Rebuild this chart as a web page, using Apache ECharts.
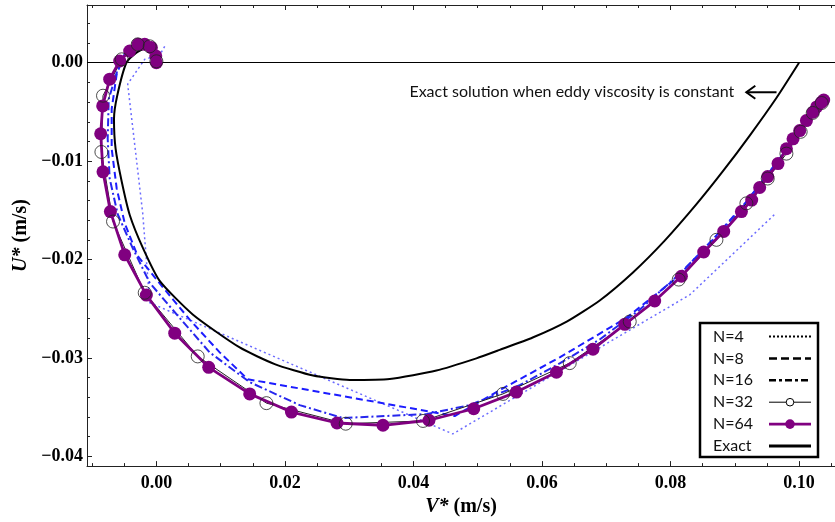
<!DOCTYPE html>
<html><head><meta charset="utf-8">
<script src="https://cdn.jsdelivr.net/npm/echarts@6/dist/echarts.min.js"></script>
<style>html,body{margin:0;padding:0;background:#fff}#c{width:835px;height:522px}</style>
</head><body><div id="c"></div><script>
// ---- data (V*, U*) in m/s ----
const exact = [[0.00025,0.00063],[-0.00078,0.00136],[-0.00182,0.00143],[-0.00311,0.00103],[-0.00467,0.0],
  [-0.00610,-0.00335],[-0.00660,-0.00571],[-0.00635,-0.00874],[-0.00540,-0.01207],[-0.00415,-0.01547],
  [-0.00209,-0.01884],[0.00051,-0.02217],[0.00565,-0.02558],[0.01296,-0.02894],[0.01841,-0.03063],
  [0.02437,-0.03180],[0.03008,-0.03224],[0.03631,-0.03214],[0.04357,-0.03129],[0.04980,-0.03005],
  [0.05342,-0.02919],[0.05856,-0.02793],[0.06385,-0.02631],[0.06899,-0.02416],[0.07412,-0.02134],
  [0.07910,-0.01808],[0.08408,-0.01435],[0.08813,-0.01105],[0.09233,-0.00740],[0.09653,-0.00353],
  [0.1000,0.0]];
const n64 = [[0.0,0.0],[-0.0001,0.00069],[-0.00078,0.00154],[-0.00182,0.00187],[-0.00286,0.00187],
  [-0.00416,0.00119],[-0.00571,0.00018],[-0.00727,-0.00167],[-0.00836,-0.00439],[-0.00867,-0.00722],
  [-0.00831,-0.01109],[-0.00716,-0.01513],[-0.00493,-0.01952],[-0.00156,-0.02362],[0.00285,-0.02749],
  [0.00814,-0.03096],[0.01452,-0.03366],[0.02101,-0.03551],[0.02810,-0.03662],[0.03526,-0.03685],
  [0.04242,-0.03634],[0.04938,-0.03517],[0.05602,-0.03348],[0.06225,-0.03146],[0.06794,-0.02911],
  [0.07288,-0.02659],[0.07754,-0.02422],[0.08170,-0.02170],[0.08517,-0.01924],[0.08828,-0.01715],
  [0.09104,-0.01513],[0.09264,-0.01396],[0.09388,-0.01268],[0.09513,-0.01157],[0.09673,-0.01025],
  [0.09804,-0.00874],[0.09907,-0.00773],[0.10011,-0.00689],[0.10115,-0.00588],[0.10218,-0.00503],
  [0.10275,-0.00449],[0.10349,-0.00402],[0.10384,-0.00379]];
const n32 = [[0.0,0.00015],[-0.00104,0.00167],[-0.00291,0.00187],[-0.0054,0.00035],[-0.00831,-0.00335],
  [-0.00856,-0.00907],[-0.00675,-0.01614],[-0.00182,-0.02338],[0.00643,-0.02985],[0.01712,-0.03460],
  [0.02946,-0.03669],[0.04149,-0.03641],[0.05394,-0.03366],[0.06432,-0.03053],[0.07366,-0.02631],
  [0.08128,-0.02204],[0.08715,-0.01800],[0.09181,-0.01429],[0.09513,-0.01177],[0.09804,-0.00924],
  [0.10026,-0.00702],[0.10213,-0.00510],[0.10353,-0.00409]];
const n16 = [[0.0,0.00035],[-0.00073,0.00167],[-0.00229,0.00207],[-0.00415,0.00136],[-0.00602,-0.00066],
  [-0.00742,-0.00369],[-0.00758,-0.00773],[-0.00727,-0.01177],[-0.00602,-0.01540],[-0.00369,-0.01884],
  [-0.00104,-0.02237],[0.00331,-0.02571],[0.00829,-0.02944],[0.01452,-0.03247],[0.02230,-0.03480],
  [0.02899,-0.03611],[0.04207,-0.03571],[0.04876,-0.03480],[0.05654,-0.03278],[0.06276,-0.03056],
  [0.06898,-0.02813],[0.07521,-0.02510],[0.08143,-0.02146],[0.08688,-0.01783],[0.09155,-0.01439],
  [0.09699,-0.00975],[0.10352,-0.00399]];
const n8 = [[0.0002,0.00056],[-0.00104,0.00187],[-0.00291,0.00207],[-0.00478,0.00116],[-0.00618,-0.00116],
  [-0.00696,-0.0047],[-0.00696,-0.00874],[-0.00618,-0.01278],[-0.00493,-0.01631],[-0.00291,-0.01965],
  [0.00082,-0.02268],[0.00518,-0.02611],[0.00985,-0.02944],[0.01421,-0.03217],[0.04642,-0.03591],
  [0.05342,-0.03328],[0.06276,-0.02995],[0.07318,-0.02591],[0.08096,-0.02187],[0.08719,-0.01753],
  [0.09185,-0.01409],[0.09699,-0.00975],[0.10352,-0.00399]];
const n4 = [[0.00129,0.00167],[0.00051,0.00076],[-0.00182,0.00035],[-0.00447,-0.00217],[-0.00213,-0.01530],
  [-0.00104,-0.02439],[0.04611,-0.03773],[0.08300,-0.02359],[0.09623,-0.01540]];

// ---- axes / ticks ----
const xMajorTicks = [0, 0.02, 0.04, 0.06, 0.08, 0.10];
const xMinorTicks = [-0.01,-0.005,0.005,0.01,0.015,0.025,0.03,0.035,0.045,0.05,0.055,0.065,0.07,0.075,0.085,0.09,0.095,0.105];
const yMajorTicks = [0, -0.01, -0.02, -0.03, -0.04];
const yMinorTicks = [0.004,0.002,-0.002,-0.004,-0.006,-0.008,-0.012,-0.014,-0.016,-0.018,-0.022,-0.024,-0.026,-0.028,-0.032,-0.034,-0.036,-0.038];
const xRange = [-0.0108, 0.1056];
const yRange = [-0.041, 0.00587];
const legendLabels = ['N=4','N=8','N=16','N=32','N=64','Exact'];
const annotationText = 'Exact solution when eddy viscosity is constant';
const annotationArrow = [[0.0965, -0.0030], [0.0918, -0.0030]];

const PURPLE = '#800080';
const fmt = v => v.toFixed(2).replace('-', '\u2212');
const serif = 'Liberation Serif';

function xAx(pos, values, len, showLine, showLabel, extra) {
  return Object.assign({
    type:'value', min:xRange[0], max:xRange[1], position:pos,
    axisLine:{show:showLine, onZero:false, lineStyle:{color:'#222', width:1}},
    axisTick:{show:true, inside:true, length:len, customValues:values, lineStyle:{color:'#222', width:1}},
    axisLabel:{show:showLabel, customValues:values, formatter:fmt, fontFamily:serif, fontWeight:'bold', fontSize:18, color:'#000', margin:8},
    splitLine:{show:false}
  }, extra || {});
}
function yAx(pos, values, len, showLine, showLabel, extra) {
  return Object.assign({
    type:'value', min:yRange[0], max:yRange[1], position:pos,
    axisLine:{show:showLine, onZero:false, lineStyle:{color:'#222', width:1}},
    axisTick:{show:true, inside:true, length:len, customValues:values, lineStyle:{color:'#222', width:1}},
    axisLabel:{show:showLabel, customValues:values, formatter:fmt, fontFamily:serif, fontWeight:'bold', fontSize:18, color:'#000', margin:4},
    splitLine:{show:false}
  }, extra || {});
}

const chart = echarts.init(document.getElementById('c'));
chart.setOption({
  animation:false,
  backgroundColor:'#fff',
  grid:{left:87, top:5, width:748, height:464, containLabel:false},
  xAxis:[
    xAx('bottom', xMajorTicks, 5, true, true, {
      name:'{i|V*} (m/s)', nameLocation:'middle', nameGap:30,
      nameTextStyle:{fontFamily:serif, fontWeight:'bold', fontSize:20, color:'#000',
        rich:{i:{fontFamily:serif, fontWeight:'bold', fontStyle:'italic', fontSize:20, color:'#000'}}}
    }),
    xAx('bottom', xMinorTicks, 3, false, false),
    xAx('top', xMajorTicks, 5, true, false),
    xAx('top', xMinorTicks, 3, false, false)
  ],
  yAxis:[
    yAx('left', yMajorTicks, 5, true, true, {
      name:'{i|U*} (m/s)', nameLocation:'middle', nameGap:56,
      nameTextStyle:{fontFamily:serif, fontWeight:'bold', fontSize:20, color:'#000',
        rich:{i:{fontFamily:serif, fontWeight:'bold', fontStyle:'italic', fontSize:20, color:'#000'}}}
    }),
    yAx('left', yMinorTicks, 3, false, false)
  ],
  series:[
    {name:'N=4', type:'line', data:n4, symbol:'none', z:2,
      lineStyle:{color:'#6b6bff', width:1.5, type:[2,3]}},
    {name:'N=8', type:'line', data:n8, symbol:'none', z:2,
      lineStyle:{color:'#1c1cff', width:2, type:[7,4]}},
    {name:'N=16', type:'line', data:n16, symbol:'none', z:2,
      lineStyle:{color:'#2626ee', width:2, type:[8,3,2,3]}},
    {name:'Exact', type:'line', data:exact, symbol:'none', smooth:0.2, z:3,
      lineStyle:{color:'#000', width:2},
      markLine:{silent:true, symbol:'none', label:{show:false},
        lineStyle:{color:'#000', width:1, type:'solid'}, data:[{yAxis:0}]}},
    {name:'N=32 line', type:'line', data:n32, symbol:'none', z:4,
      lineStyle:{color:'#222', width:1}},
    {name:'N=64', type:'line', data:n64, symbol:'circle', symbolSize:13, showAllSymbol:true, z:5,
      lineStyle:{color:PURPLE, width:2.8}, itemStyle:{color:PURPLE}},
    {name:'N=32', type:'scatter', data:n32, symbol:'circle', symbolSize:13, z:6,
      itemStyle:{color:'rgba(0,0,0,0)', borderColor:'#222', borderWidth:1}}
  ]
});

// ---- legend (drawn as graphic) and annotation ----
const g = [];
g.push({type:'rect', shape:{x:700, y:323, width:118, height:134}, style:{fill:'#fff', stroke:'#000', lineWidth:2.5}, z:100});
const rowY = i => 336.5 + i * 21.9;
const lx1 = 769, lx2 = 811, lxm = 790;
const samples = [
  {stroke:'#000', lineWidth:2, lineDash:[2,2]},
  {stroke:'#000', lineWidth:2.5, lineDash:[8,4]},
  {stroke:'#000', lineWidth:2.5, lineDash:[7,3,3,3]},
  {stroke:'#000', lineWidth:1},
  {stroke:PURPLE, lineWidth:2.8},
  {stroke:'#000', lineWidth:2.8}
];
legendLabels.forEach((lab, i) => {
  const y = rowY(i);
  g.push({type:'text', x:713, y:y, z:101, style:{text:lab, fontFamily:'Lato', fontSize:16, fill:'#111', verticalAlign:'middle', align:'left'}});
  g.push({type:'line', shape:{x1:lx1, y1:y, x2:lx2, y2:y}, style:samples[i], z:101});
  if (i === 3) g.push({type:'circle', shape:{cx:lxm, cy:y, r:3.8}, style:{fill:'#fff', stroke:'#000', lineWidth:1}, z:102});
  if (i === 4) g.push({type:'circle', shape:{cx:lxm, cy:y, r:4.8}, style:{fill:PURPLE}, z:102});
});
const pTail = chart.convertToPixel({gridIndex:0}, annotationArrow[0]);
const pTip = chart.convertToPixel({gridIndex:0}, annotationArrow[1]);
g.push({type:'line', shape:{x1:pTail[0], y1:pTail[1], x2:pTip[0], y2:pTip[1]}, style:{stroke:'#000', lineWidth:2}, z:100});
g.push({type:'polyline', shape:{points:[[pTip[0]+9, pTip[1]-6.5],[pTip[0], pTip[1]],[pTip[0]+9, pTip[1]+6.5]]}, style:{stroke:'#000', lineWidth:2, fill:null}, z:100});
g.push({type:'text', x:pTip[0]-12, y:pTip[1], z:100, style:{text:annotationText, fontFamily:'Lato', fontSize:16, fill:'#111', align:'right', verticalAlign:'middle'}});
chart.setOption({graphic:g});
</script></body></html>
